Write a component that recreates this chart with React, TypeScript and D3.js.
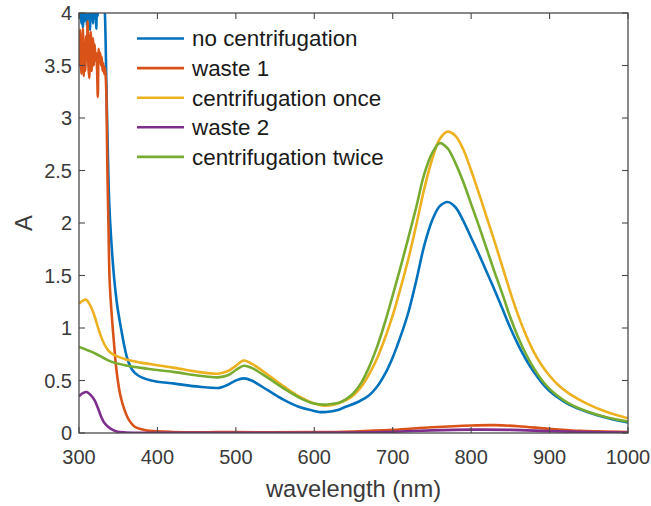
import React from "react";
import * as d3 from "d3";

// Absorbance spectra (wavelength in nm, absorbance A)
const noCentrifugationNm = [300,301,302,303,304,305,306,307,308,309,310,311,312,313,314,315,316,317,318,319,320,321,322,323,324,325,326,327,328,330,332,333,335,337,338.5,341,345,349,354,358,362,368,375,392,422,454,479,490,500,510,520,540,560,580,600,606,615,630,640,657,670,680,690,700,710,720,730,740,750,760,770,780,790,800,810,820,830,840,850,860,870,880,890,900,910,925,950,975,1000];
const noCentrifugationA = [4.2,3.95,4.3,3.9,4.1,3.86,4.2,3.92,4.1,4.3,3.88,4.1,3.95,4.2,3.84,4.1,3.93,4.2,3.9,4.1,3.95,4.2,3.85,4.1,3.97,4.2,4.05,4.2,4.1,4.2,4.1,4.0,3.3,2.6,2.2,1.85,1.46,1.2,0.98,0.82,0.7,0.6,0.55,0.5,0.47,0.44,0.43,0.46,0.5,0.52,0.5,0.41,0.32,0.25,0.21,0.2,0.2,0.22,0.25,0.3,0.36,0.44,0.56,0.72,0.92,1.15,1.45,1.78,2.02,2.16,2.2,2.15,2.02,1.86,1.7,1.53,1.36,1.18,1.0,0.84,0.7,0.58,0.48,0.4,0.34,0.27,0.195,0.14,0.1];

const waste1Nm = [300,301,302,303,304,305,306,307,308,309,310,311,312,313,314,315,316,317,318,319,320,321,322,323,324,325,326,327,328,329,330,331,332,333,334,335,336,337.5,339,341,343,345,347,349.5,353,358,364,371,380,390,420,500,600,650,700,750,800,830,860,900,940,1000];
const waste1A = [3.5,3.84,3.6,3.42,3.55,3.85,3.4,3.7,3.45,3.78,3.55,3.92,3.5,3.38,3.62,3.82,3.45,3.72,3.76,3.5,3.7,3.55,3.62,3.48,3.2,3.66,3.55,3.62,3.5,3.58,3.45,3.52,3.42,3.48,3.4,3.2,2.6,2.0,1.46,1.2,1.0,0.82,0.65,0.5,0.35,0.22,0.12,0.06,0.035,0.02,0.01,0.008,0.008,0.015,0.03,0.055,0.072,0.075,0.065,0.04,0.02,0.01];

const onceNm = [300,305,309,314,320,324,328,332,337,343,349,360,379,400,422,454,477,490,500,510,520,540,560,580,600,612,625,640,650,660,670,680,690,700,710,720,730,740,750,760,770,780,790,800,810,820,830,840,850,860,870,880,890,900,910,925,950,975,1000];
const onceA = [1.23,1.26,1.27,1.22,1.11,1.01,0.92,0.85,0.79,0.75,0.73,0.7,0.67,0.645,0.62,0.58,0.565,0.59,0.64,0.69,0.66,0.56,0.45,0.35,0.28,0.26,0.27,0.31,0.36,0.44,0.56,0.71,0.9,1.12,1.38,1.66,1.98,2.32,2.6,2.8,2.87,2.83,2.7,2.5,2.28,2.05,1.82,1.58,1.34,1.12,0.93,0.77,0.645,0.545,0.465,0.375,0.27,0.195,0.14];

const waste2Nm = [300,305,310,315,320,324,328,332,337,343,349,360,400,500,650,700,750,800,850,900,950,1000];
const waste2A = [0.35,0.38,0.39,0.36,0.31,0.24,0.16,0.1,0.06,0.03,0.012,0.005,0.003,0.003,0.005,0.012,0.025,0.032,0.03,0.018,0.008,0.004];

const twiceNm = [300,320,341,362,400,422,454,477,490,500,510,520,540,560,580,600,612,625,632,640,650,660,670,680,690,700,710,720,730,740,750,760,770,780,790,800,810,820,830,840,850,860,870,880,890,900,910,925,950,975,1000];
const twiceA = [0.82,0.76,0.68,0.64,0.6,0.58,0.545,0.53,0.55,0.6,0.64,0.62,0.53,0.43,0.34,0.28,0.27,0.28,0.29,0.32,0.38,0.48,0.63,0.82,1.05,1.31,1.58,1.86,2.15,2.46,2.66,2.76,2.71,2.57,2.39,2.18,1.97,1.75,1.53,1.32,1.1,0.91,0.75,0.615,0.505,0.42,0.355,0.28,0.2,0.145,0.11];

const seriesNames = ["no centrifugation", "waste 1", "centrifugation once", "waste 2", "centrifugation twice"];
const seriesColors = ["#0072BD", "#D95319", "#EDB120", "#7E2F8E", "#77AC30"];
const seriesNm = [noCentrifugationNm, waste1Nm, onceNm, waste2Nm, twiceNm];
const seriesA = [noCentrifugationA, waste1A, onceA, waste2A, twiceA];

const xTicks = [300, 400, 500, 600, 700, 800, 900, 1000];
const yTicks = [0, 0.5, 1, 1.5, 2, 2.5, 3, 3.5, 4];

const W = 651;
const H = 506;
const plot = { left: 79, right: 628, top: 13, bottom: 433 };
const font = "'Liberation Sans', Arial, Helvetica, sans-serif";
const axisColor = "#4a4a4a";
const textColor = "#3a3a3a";

export default function App() {
  const x = d3.scaleLinear().domain([300, 1000]).range([plot.left, plot.right]);
  const y = d3.scaleLinear().domain([0, 4]).range([plot.bottom, plot.top]);
  const line = d3
    .line<[number, number]>()
    .x((d) => x(d[0]))
    .y((d) => y(d[1]))
    .curve(d3.curveCatmullRom.alpha(0.5));

  const tickLen = 6;

  return (
    <svg width={W} height={H} style={{ position: "absolute", left: 0, top: 0, background: "#fff" }}>
      <defs>
        <clipPath id="plot-clip">
          <rect x={plot.left} y={plot.top} width={plot.right - plot.left} height={plot.bottom - plot.top} />
        </clipPath>
      </defs>
      <rect x={0} y={0} width={W} height={H} fill="#fff" />

      <g clipPath="url(#plot-clip)">
        {seriesNames.map((name, i) => {
          const pts = seriesNm[i].map((nm, k) => [nm, seriesA[i][k]] as [number, number]);
          return (
            <path
              key={name}
              d={line(pts) ?? ""}
              fill="none"
              stroke={seriesColors[i]}
              strokeWidth={2.6}
              strokeLinejoin="round"
            />
          );
        })}
      </g>

      {/* axes box with inward ticks on all four sides */}
      <rect
        x={plot.left}
        y={plot.top}
        width={plot.right - plot.left}
        height={plot.bottom - plot.top}
        fill="none"
        stroke={axisColor}
        strokeWidth={1.3}
      />
      {xTicks.map((t) => (
        <g key={"xt" + t}>
          <line x1={x(t)} x2={x(t)} y1={plot.bottom} y2={plot.bottom - tickLen} stroke={axisColor} strokeWidth={1.1} />
          <line x1={x(t)} x2={x(t)} y1={plot.top} y2={plot.top + tickLen} stroke={axisColor} strokeWidth={1.1} />
          <text
            x={x(t)}
            y={464}
            textAnchor="middle"
            fontFamily={font}
            fontSize={20}
            fill={textColor}
          >
            {t}
          </text>
        </g>
      ))}
      {yTicks.map((t) => (
        <g key={"yt" + t}>
          <line x1={plot.left} x2={plot.left + tickLen} y1={y(t)} y2={y(t)} stroke={axisColor} strokeWidth={1.1} />
          <line x1={plot.right} x2={plot.right - tickLen} y1={y(t)} y2={y(t)} stroke={axisColor} strokeWidth={1.1} />
          <text
            x={72}
            y={y(t)}
            dy="0.35em"
            textAnchor="end"
            fontFamily={font}
            fontSize={20}
            fill={textColor}
          >
            {String(t)}
          </text>
        </g>
      ))}

      <text
        x={(plot.left + plot.right) / 2}
        y={497}
        textAnchor="middle"
        fontFamily={font}
        fontSize={23.7}
        fill={textColor}
      >
        wavelength (nm)
      </text>
      <text
        transform={`translate(32, ${(plot.top + plot.bottom) / 2}) rotate(-90)`}
        textAnchor="middle"
        fontFamily={font}
        fontSize={23.7}
        fill={textColor}
      >
        A
      </text>

      {/* legend */}
      {seriesNames.map((name, i) => {
        const ly = 38.5 + i * 29.6;
        return (
          <g key={"lg" + name}>
            <line x1={137} x2={184} y1={ly} y2={ly} stroke={seriesColors[i]} strokeWidth={2.6} />
            <text x={192} y={ly} dy="0.35em" fontFamily={font} fontSize={22.4} fill="#1a1a1a">
              {name}
            </text>
          </g>
        );
      })}
    </svg>
  );
}
